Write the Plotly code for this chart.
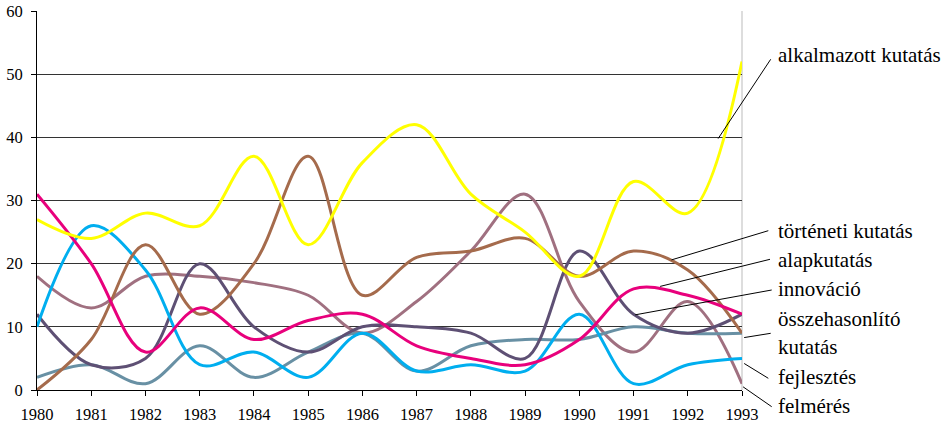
import plotly.graph_objects as go

years = list(range(1980, 1994))

alkalmazott = [27, 24, 28, 26, 37, 23, 36, 42, 31, 25, 18, 33, 28, 52]
torteneti = [0, 8, 23, 12, 20, 37, 15, 21, 22, 24, 18, 22, 19, 9]
alapkutatas = [31, 20, 6, 13, 8, 11, 12, 7, 5, 4, 8, 16, 15, 12]
innovacio = [12, 4, 5, 20, 10, 6, 10, 10, 9, 5, 22, 12, 9, 12]
osszehasonlito = [2, 4, 1, 7, 2, 6, 9, 3, 7, 8, 8, 10, 9, 9]
fejlesztes = [10, 26, 19, 4, 6, 2, 9, 3, 4, 3, 12, 1, 4, 5]
felmeres = [18, 13, 18, 18, 17, 15, 9, 14, 22, 31, 14, 6, 14, 1]

series_names = ["alkalmazott kutatás", "történeti kutatás", "alapkutatás", "innováció",
                "összehasonlító kutatás", "fejlesztés", "felmérés"]
series_values = [alkalmazott, torteneti, alapkutatas, innovacio, osszehasonlito, fejlesztes, felmeres]
series_colors = ["#FFFF00", "#A56B4C", "#E8007C", "#5E5074", "#6890A4", "#00AEEF", "#A07080"]

y_ticks = [0, 10, 20, 30, 40, 50, 60]

labels = [
    ("alkalmazott kutatás", 55, 770.7, 59.3, 1992.56, 39.8),
    ("történeti kutatás", 231, 768.3, 230.7, 1991.70, 20.6),
    ("alapkutatás", 260, 770.0, 259.3, 1991.49, 16.4),
    ("innováció", 289, 771.7, 290.0, 1991.03, 11.9),
    ("összehasonlító", 319, 770.7, 333.3, 1993.04, 8.3),
    ("kutatás", 347, None, None, None, None),
    ("fejlesztés", 377, 768.3, 378.3, 1993.04, 4.2),
    ("felmérés", 406, 771.7, 406.7, 1993.02, 0.5),
]

FONT = "Liberation Serif, Times New Roman, serif"
W, H = 947, 425
L, R, T, B = 37, 742, 11, 390

fig = go.Figure()
order = [6, 4, 3, 5, 1, 2, 0]
for i in order:
    fig.add_trace(go.Scatter(
        x=years, y=series_values[i], name=series_names[i], mode="lines",
        line=dict(color=series_colors[i], width=3, shape="spline", smoothing=1.0),
        showlegend=False))

def px_to_paper(px, py):
    return (px - L) / (R - L), (B - py) / (B - T)

for text, ty, lx, ly, dx, dy in labels:
    xp, yp = px_to_paper(776, ty)
    fig.add_annotation(x=xp, y=yp, xref="paper", yref="paper", text=text, showarrow=False,
                       xanchor="left", yanchor="middle",
                       font=dict(family=FONT, size=21, color="black"))
    if lx is not None:
        x0, y0 = px_to_paper(lx, ly)
        x1 = (dx - years[0]) / (years[-1] - years[0])
        y1 = dy / 60
        fig.add_shape(type="line", xref="paper", yref="paper", x0=x0, y0=y0, x1=x1, y1=y1,
                      line=dict(color="black", width=1))

fig.add_shape(type="line", xref="paper", yref="paper", x0=1, x1=1, y0=0, y1=1,
              line=dict(color="#BBBBBB", width=1), layer="below")

fig.update_layout(
    width=W, height=H,
    margin=dict(l=L, r=W - R, t=T, b=H - B, autoexpand=False),
    paper_bgcolor="white", plot_bgcolor="white",
    font=dict(family=FONT, size=16.5, color="black"),
    xaxis=dict(range=[1980, 1993], tickmode="array", tickvals=years, ticktext=[str(y) for y in years],
               showgrid=False, zeroline=False, showline=True, linecolor="black", linewidth=1,
               ticks="outside", ticklen=5, tickcolor="black", ticklabelstandoff=4,
               tickfont=dict(family=FONT, size=16.5)),
    yaxis=dict(range=[0, 60], tickmode="array", tickvals=y_ticks,
               showgrid=True, gridcolor="#333333", gridwidth=1, zeroline=False,
               showline=True, linecolor="black", linewidth=1,
               ticks="outside", ticklen=5, tickcolor="black", ticklabelstandoff=5,
               tickfont=dict(family=FONT, size=16.5)),
)

fig.write_html("out.html", config={"displayModeBar": False},
               post_script="document.body.style.margin='0';")
